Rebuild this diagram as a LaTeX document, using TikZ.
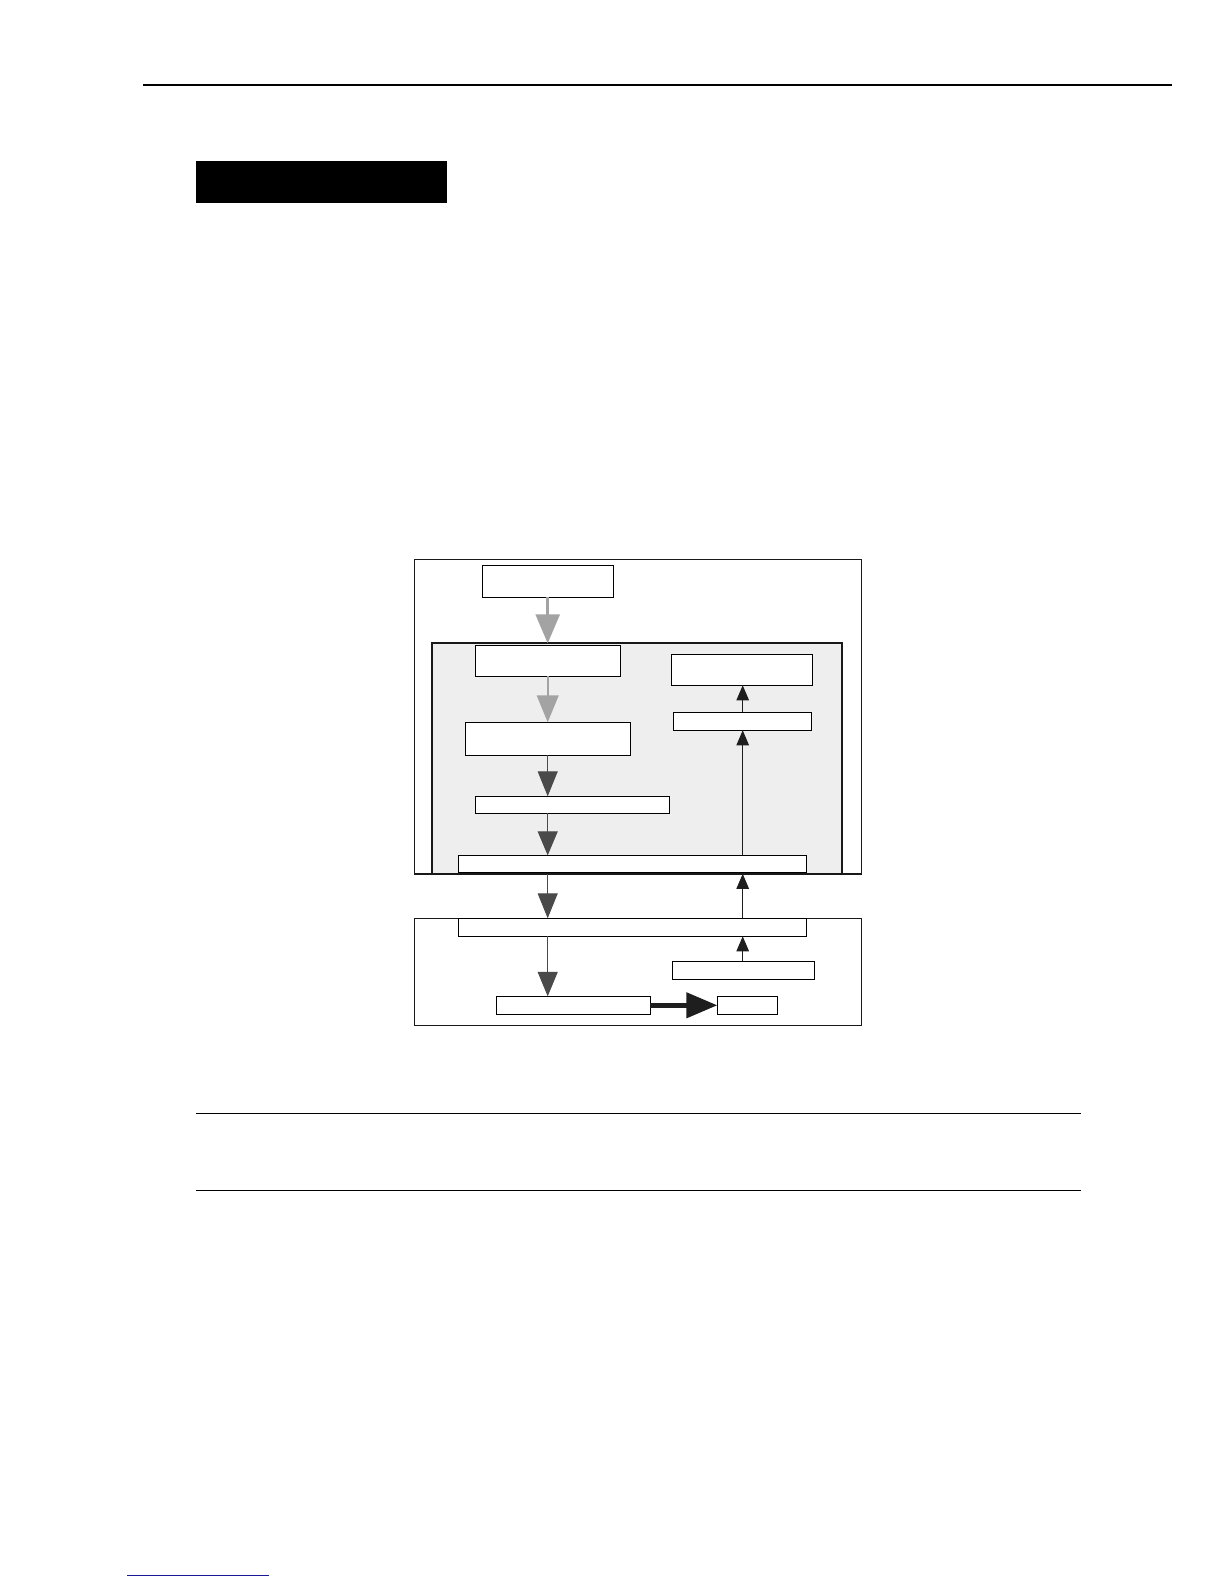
\documentclass[tikz,border=0pt]{standalone}
\usetikzlibrary{arrows.meta}
\definecolor{arrgray}{HTML}{A3A3A3}
\definecolor{arrdark}{HTML}{4A4A4A}
\definecolor{arrblack}{HTML}{1E1E1E}
\definecolor{panelgray}{HTML}{EEEEEE}
\definecolor{linkblue}{HTML}{1A1A99}
\begin{document}
\begin{tikzpicture}[x=1pt,y=-1pt,
  box/.style={draw=black, fill=white, line width=0.9pt, inner sep=0pt, outer sep=0pt, shape=rectangle},
  frame/.style={draw=black!90, line width=1.4pt, inner sep=0pt, outer sep=0pt, shape=rectangle},
  grayarr/.style={draw=arrgray, line width=#1, -{Triangle[length=29pt, width=24pt, fill=arrgray]}},
  grayarr/.default=2.6pt,
  darkarr/.style={draw=arrdark, line width=1pt, -{Triangle[length=25pt, width=20pt, fill=arrdark]}},
  blackarr/.style={draw=arrblack, line width=1pt, -{Triangle[length=15pt, width=12.5pt, fill=arrblack]}},
  thickarr/.style={draw=arrblack, line width=4.5pt, -{Triangle[length=31pt, width=25pt, fill=arrblack]}},
  rule/.style={draw=black, line width=#1},
]
\useasboundingbox (0,0) rectangle (1224,1584);
\fill[white] (0,0) rectangle (1224,1584);

% page furniture
\coordinate (r1a) at (143,85);
\coordinate (r1b) at (1172,85);
\draw[rule=2pt] (r1a) -- (r1b);
\node[fill=black, inner sep=0pt, minimum width=250.7pt, minimum height=41.7pt, anchor=north west] (titlebar) at (196,161) {};
\coordinate (r2a) at (196,1113.3);
\coordinate (r2b) at (1081,1113.3);
\draw[rule=1.3pt] (r2a) -- (r2b);
\coordinate (r3a) at (196,1190.7);
\coordinate (r3b) at (1081,1190.7);
\draw[rule=1.3pt] (r3a) -- (r3b);
\coordinate (lk1) at (127,1575);
\coordinate (lk2) at (269,1575);
\draw[draw=linkblue, line width=1pt] (lk1) -- (lk2);

% frames
\node[frame, fill=white, minimum width=446.6pt, minimum height=314.5pt, anchor=north west] (outer1) at (414.7,559.3) {};
\node[draw=black!90, line width=1.7pt, fill=panelgray, inner sep=0pt, outer sep=0pt, minimum width=410pt, minimum height=230.5pt, anchor=north west] (inner) at (432.3,643.3) {};
\draw[frame] (outer1.south west) -- (outer1.south east);
\node[frame, fill=white, minimum width=446.6pt, minimum height=107pt, anchor=north west] (outer2) at (414.7,918.3) {};

% column coordinates
\coordinate (colL) at (547.7,0);
\coordinate (colR) at (742.7,0);

% boxes
\node[box, minimum width=131pt, minimum height=32pt] (A) at (547.7,581.3) {};
\node[box, minimum width=145pt, minimum height=31pt] (B) at (547.8,660.8) {};
\node[box, minimum width=165pt, minimum height=33pt] (C) at (547.8,738.8) {};
\node[box, minimum width=194pt, minimum height=17pt] (D) at (572.3,804.8) {};
\node[box, minimum width=348pt, minimum height=17.5pt] (E) at (632.3,864.1) {};
\node[box, minimum width=141.4pt, minimum height=31pt] (F) at (742,669.8) {};
\node[box, minimum width=138.4pt, minimum height=18pt] (G) at (742.5,721.3) {};
\node[box, minimum width=348pt, minimum height=18pt] (H) at (632.3,927.3) {};
\node[box, minimum width=142pt, minimum height=18pt] (I) at (743.3,970.3) {};
\node[box, minimum width=154pt, minimum height=18pt] (J) at (573.3,1005.3) {};
\node[box, minimum width=60pt, minimum height=18pt] (K) at (747.3,1005.3) {};

% left column arrows (downwards)
\draw[grayarr] (colL |- A.south) -- (colL |- inner.north);
\draw[grayarr=2pt, -{Triangle[length=27pt, width=21.7pt, fill=arrgray]}] (colL |- B.south) -- (colL |- C.north);
\draw[darkarr] (colL |- C.south) -- (colL |- D.north);
\draw[darkarr, -{Triangle[length=24pt, width=20pt, fill=arrdark]}] (colL |- D.south) -- (colL |- E.north);
\draw[darkarr] (colL |- outer1.south) -- (colL |- H.north);
\draw[darkarr, -{Triangle[length=24.4pt, width=20pt, fill=arrdark]}] (colL |- H.south) -- (colL |- J.north);

% bottom thick arrow
\draw[thickarr] (J.east) -- (K.west);

% right column arrows (upwards)
\draw[blackarr] (colR |- I.north) -- (colR |- H.south);
\draw[blackarr] (colR |- H.north) -- (colR |- outer1.south);
\draw[blackarr] (colR |- E.north) -- (colR |- G.south);
\draw[blackarr] (colR |- G.north) -- (colR |- F.south);
\end{tikzpicture}
\end{document}
